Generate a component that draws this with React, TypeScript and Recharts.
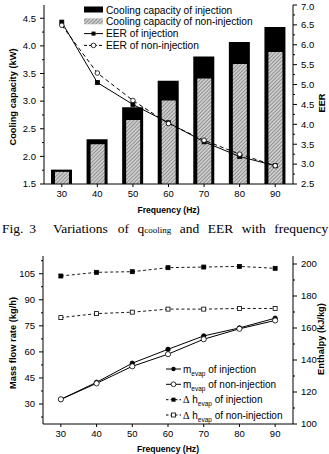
import React from 'react';
import { ComposedChart, Bar, Line, XAxis, YAxis, Legend } from 'recharts';

// frequency (Hz)
const freq = [30, 40, 50, 60, 70, 80, 90];

// top chart: cooling capacity (kW) and EER
const capInj = [1.76, 2.31, 2.89, 3.37, 3.81, 4.07, 4.34];
const capNon = [1.72, 2.22, 2.66, 3.01, 3.41, 3.67, 3.89];
const eerInj = [6.57, 5.05, 4.5, 4.04, 3.56, 3.19, 2.96];
const eerNon = [6.49, 5.29, 4.6, 4.02, 3.6, 3.25, 2.96];

// bottom chart: mass flow rate (kg/h) and enthalpy difference (kJ/kg)
const mInj = [32.7, 42.5, 53.5, 61.5, 69.2, 73.8, 79.4];
const mNon = [32.7, 41.9, 51.7, 58.7, 67.3, 73.3, 78.1];
const dhInj = [192.5, 194.8, 195.2, 197.7, 198.1, 198.5, 197.3];
const dhNon = [166.5, 169.0, 169.9, 171.8, 171.8, 172.2, 172.2];

const capMajor = [1.5, 2.0, 2.5, 3.0, 3.5, 4.0, 4.5];
const capMinor = [1.75, 2.25, 2.75, 3.25, 3.75, 4.25];
const eerMajor = [2.5, 3.0, 3.5, 4.0, 4.5, 5.0, 5.5, 6.0, 6.5, 7.0];
const eerMinor = [2.75, 3.25, 3.75, 4.25, 4.75, 5.25, 5.75, 6.25, 6.75];
const massMajor = [30, 45, 60, 75, 90, 105];
const massMinor = [22.5, 37.5, 52.5, 67.5, 82.5, 97.5, 112.5];
const enthMajor = [100, 120, 140, 160, 180, 200];
const enthMinor = [110, 130, 150, 170, 190];

const topData = freq.map((f, i) => ({ freq: f, capInj: capInj[i], capNon: capNon[i], eerInj: eerInj[i], eerNon: eerNon[i] }));
const bottomData = freq.map((f, i) => ({ freq: f, mInj: mInj[i], mNon: mNon[i], dhInj: dhInj[i], dhNon: dhNon[i] }));

const FONT = '"Liberation Sans", Arial, sans-serif';
const SERIF = '"Liberation Serif", "Times New Roman", serif';
const TICK_FS = 9.5;
const TS = 4;
const TM = 4;

const fmt1 = (v: number) => v.toFixed(1);
const fmt0 = (v: number) => String(v);

const leftTick = (majors: number[], f: (v: number) => string) => (p: any) => {
  const v = p.payload.value;
  const major = majors.includes(v);
  return (
    <g key={`lt-${v}`}>
      <line x1={p.x + TM + (major ? 0 : 2)} x2={p.x + TM + TS} y1={p.y} y2={p.y} stroke="#000" />
      {major && (
        <text x={p.x} y={p.y} dy="0.35em" textAnchor="end" fontSize={TICK_FS} fontFamily={FONT} fill="#000">{f(v)}</text>
      )}
    </g>
  );
};

const rightTick = (majors: number[], f: (v: number) => string) => (p: any) => {
  const v = p.payload.value;
  const major = majors.includes(v);
  return (
    <g key={`rt-${v}`}>
      <line x1={p.x - TM - TS} x2={p.x - TM - (major ? 0 : 2)} y1={p.y} y2={p.y} stroke="#000" />
      {major && (
        <text x={p.x} y={Math.max(p.y, 6.5)} dy="0.35em" textAnchor="start" fontSize={TICK_FS} fontFamily={FONT} fill="#000">{f(v)}</text>
      )}
    </g>
  );
};

const bottomTick = (p: any) => (
  <g key={`bt-${p.payload.value}`}>
    <line x1={p.x} x2={p.x} y1={p.y - 6} y2={p.y - 3} stroke="#000" />
    <text x={p.x} y={p.y} dy="0.71em" textAnchor="middle" fontSize={TICK_FS} fontFamily={FONT} fill="#000">{p.payload.value}</text>
  </g>
);

const vTitle = (text: string, x: number, y: number) => () => (
  <text x={x} y={y} transform={`rotate(-90 ${x} ${y})`} textAnchor="middle" dy="0.35em"
    fontSize={9.3} fontWeight="bold" fontFamily={FONT} fill="#000">{text}</text>
);

const xTitle = { value: 'Frequency (Hz)', position: 'insideBottom' as const, offset: 2, fontSize: 8.6, fontWeight: 'bold', fill: '#000', fontFamily: FONT };

const squareDot = (fill: string) => (p: any) => (
  <rect key={`sq-${p.dataKey}-${p.index}`} x={p.cx - 2} y={p.cy - 2} width={4} height={4} fill={fill} stroke="#000" strokeWidth={0.8} />
);
const circleDot = (fill: string, r: number) => (p: any) => (
  <circle key={`ci-${p.dataKey}-${p.index}`} cx={p.cx} cy={p.cy} r={r} fill={fill} stroke="#000" strokeWidth={0.8} />
);

const TopLegend = () => (
  <svg width={175} height={50} style={{ display: 'block' }}>
    <rect x={1} y={3.5} width={19} height={6} fill="#000" />
    <text x={23} y={7} dy="0.35em" fontSize={10.2} fontFamily={FONT}>Cooling capacity of injection</text>
    <rect x={1} y={15.3} width={19} height={6} fill="url(#hatch)" />
    <text x={23} y={18.8} dy="0.35em" fontSize={10.2} fontFamily={FONT}>Cooling capacity of non-injection</text>
    <line x1={1} x2={20} y1={30.6} y2={30.6} stroke="#000" />
    <rect x={8.5} y={28.6} width={4} height={4} fill="#000" />
    <text x={23} y={30.6} dy="0.35em" fontSize={10.2} fontFamily={FONT}>EER of injection</text>
    <line x1={1} x2={20} y1={42.4} y2={42.4} stroke="#000" strokeDasharray="3 2" />
    <circle cx={10.5} cy={42.4} r={2.3} fill="#fff" stroke="#000" strokeWidth={0.8} />
    <text x={23} y={42.4} dy="0.35em" fontSize={10.2} fontFamily={FONT}>EER of non-injection</text>
  </svg>
);

const BottomLegend = () => {
  const rows = [9, 24.3, 39.7, 55];
  return (
    <svg width={140} height={64} style={{ display: 'block' }}>
      <line x1={2} x2={17} y1={rows[0]} y2={rows[0]} stroke="#000" />
      <circle cx={9.5} cy={rows[0]} r={2.2} fill="#000" />
      <text x={19} y={rows[0]} dy="0.35em" fontSize={10} fontFamily={FONT}>m<tspan fontSize={6.5} dy={3}>evap</tspan><tspan dy={-3}> of injection</tspan></text>

      <line x1={2} x2={17} y1={rows[1]} y2={rows[1]} stroke="#000" />
      <circle cx={9.5} cy={rows[1]} r={2.4} fill="#fff" stroke="#000" strokeWidth={0.8} />
      <text x={19} y={rows[1]} dy="0.35em" fontSize={10} fontFamily={FONT}>m<tspan fontSize={6.5} dy={3}>evap</tspan><tspan dy={-3}> of non-injection</tspan></text>

      <line x1={2} x2={17} y1={rows[2]} y2={rows[2]} stroke="#000" strokeDasharray="2.5 2" />
      <rect x={7.5} y={rows[2] - 2} width={4} height={4} fill="#000" />
      <text x={19} y={rows[2]} dy="0.35em" fontSize={10} fontFamily={FONT}><tspan fontFamily={SERIF}>Δ</tspan> h<tspan fontSize={6.5} dy={3}>evap</tspan><tspan dy={-3}> of injection</tspan></text>

      <line x1={2} x2={17} y1={rows[3]} y2={rows[3]} stroke="#000" strokeDasharray="2.5 2" />
      <rect x={7.5} y={rows[3] - 2} width={4} height={4} fill="#fff" stroke="#000" strokeWidth={0.8} />
      <text x={19} y={rows[3]} dy="0.35em" fontSize={10} fontFamily={FONT}><tspan fontFamily={SERIF}>Δ</tspan> h<tspan fontSize={6.5} dy={3}>evap</tspan><tspan dy={-3}> of non-injection</tspan></text>
    </svg>
  );
};

// caption words and their left edges (justified line)
const captionWords: [string, number][] = [
  ['Fig.', 2], ['3', 29.3], ['Variations', 53], ['of', 117.7], ['q', 137.4],
  ['and', 179.8], ['EER', 207.8], ['with', 241.8], ['frequency', 274.2],
];

export default function App() {
  return (
    <div style={{ position: 'absolute', left: 0, top: 0, width: 329, height: 454, background: '#fff' }}>
      <div style={{ position: 'absolute', left: 0, top: 0 }}>
        <ComposedChart width={329} height={215} data={topData} margin={{ top: 5, right: 0, bottom: 0, left: 0 }}>
          <defs>
            <pattern id="hatch" width="2.6" height="2.6" patternUnits="userSpaceOnUse" patternTransform="rotate(45)">
              <rect width="2.6" height="2.6" fill="#cdcdcd" />
              <line x1="0" y1="0" x2="0" y2="2.6" stroke="#666" strokeWidth="1.1" />
            </pattern>
          </defs>
          <XAxis xAxisId="a" dataKey="freq" type="number" domain={[25, 95]} ticks={freq} interval={0}
            height={31} axisLine={{ stroke: '#000' }} tickLine={false} tickSize={3} tickMargin={3}
            tick={bottomTick} label={xTitle} />
          <XAxis xAxisId="b" dataKey="freq" type="number" domain={[25, 95]} orientation="top" height={0}
            tick={false} tickLine={false} axisLine={{ stroke: '#000' }} />
          <YAxis yAxisId="l" type="number" domain={[1.5, 4.74]} ticks={[...capMajor, ...capMinor]} interval={0}
            width={44} axisLine={{ stroke: '#000' }} tickLine={false} tickSize={TS} tickMargin={TM}
            tick={leftTick(capMajor, fmt1)} label={{ content: vTitle('Cooling capacity (kW)', 13, 97) }} />
          <YAxis yAxisId="r" orientation="right" type="number" domain={[2.5, 7]} ticks={[...eerMajor, ...eerMinor]} interval={0}
            width={36} axisLine={{ stroke: '#000' }} tickLine={false} tickSize={TS} tickMargin={TM}
            tick={rightTick(eerMajor, fmt1)} label={{ content: vTitle('EER', 321.5, 103) }} />
          <Bar xAxisId="a" yAxisId="l" dataKey="capInj" fill="#000" barSize={21} isAnimationActive={false} />
          <Bar xAxisId="b" yAxisId="l" dataKey="capNon" fill="url(#hatch)" barSize={14} isAnimationActive={false} />
          <Line xAxisId="a" yAxisId="r" dataKey="eerInj" stroke="#000" strokeWidth={1} dot={squareDot('#000')} activeDot={false} isAnimationActive={false} />
          <Line xAxisId="a" yAxisId="r" dataKey="eerNon" stroke="#000" strokeWidth={1} strokeDasharray="4 3" dot={circleDot('#fff', 2.3)} activeDot={false} isAnimationActive={false} />
          <Legend layout="vertical" align="center" verticalAlign="middle" content={<TopLegend />}
            wrapperStyle={{ top: 3, left: 83, width: 175, height: 50 }} />
        </ComposedChart>
      </div>

      <svg style={{ position: 'absolute', left: 0, top: 215 }} width={329} height={25}>
        {captionWords.map(([w, x]) => (
          <text key={w + x} x={x} y={17.5} fontSize={13.5} fontFamily={SERIF} fill="#000">{w}</text>
        ))}
        <text x={144.3} y={17.5} fontSize={9} fontFamily={SERIF} fill="#000">cooling</text>
      </svg>

      <div style={{ position: 'absolute', left: 0, top: 240 }}>
        <ComposedChart width={329} height={214} data={bottomData} margin={{ top: 16, right: 0, bottom: 0, left: 0 }}>
          <XAxis xAxisId="a" dataKey="freq" type="number" domain={[25, 95]} ticks={freq} interval={0}
            height={30} axisLine={{ stroke: '#000' }} tickLine={false} tickSize={3} tickMargin={3}
            tick={bottomTick} label={xTitle} />
          <XAxis xAxisId="t" dataKey="freq" type="number" domain={[25, 95]} orientation="top" height={0}
            tick={false} tickLine={false} axisLine={{ stroke: '#000' }} />
          <YAxis yAxisId="l" type="number" domain={[18.5, 115.2]} ticks={[...massMajor, ...massMinor]} interval={0}
            width={43} axisLine={{ stroke: '#000' }} tickLine={false} tickSize={TS} tickMargin={TM}
            tick={leftTick(massMajor, fmt0)} label={{ content: vTitle('Mass flow rate (kg/h)', 13, 103) }} />
          <YAxis yAxisId="r" orientation="right" type="number" domain={[100, 205]} ticks={[...enthMajor, ...enthMinor]} interval={0}
            width={36} axisLine={{ stroke: '#000' }} tickLine={false} tickSize={TS} tickMargin={TM}
            tick={rightTick(enthMajor, fmt0)} label={{ content: vTitle('Enthalpy (kJ/kg)', 321, 99) }} />
          <Line xAxisId="a" yAxisId="r" dataKey="dhInj" stroke="#000" strokeWidth={0.9} strokeDasharray="3 2.5" dot={squareDot('#000')} activeDot={false} isAnimationActive={false} />
          <Line xAxisId="a" yAxisId="r" dataKey="dhNon" stroke="#000" strokeWidth={0.9} strokeDasharray="3 2.5" dot={squareDot('#fff')} activeDot={false} isAnimationActive={false} />
          <Line xAxisId="a" yAxisId="l" dataKey="mInj" stroke="#000" strokeWidth={1} dot={circleDot('#000', 2.2)} activeDot={false} isAnimationActive={false} />
          <Line xAxisId="a" yAxisId="l" dataKey="mNon" stroke="#000" strokeWidth={1} dot={circleDot('#fff', 2.6)} activeDot={false} isAnimationActive={false} />
          <Legend layout="vertical" align="center" verticalAlign="middle" content={<BottomLegend />}
            wrapperStyle={{ top: 120, left: 164, width: 140, height: 64 }} />
        </ComposedChart>
      </div>
    </div>
  );
}
